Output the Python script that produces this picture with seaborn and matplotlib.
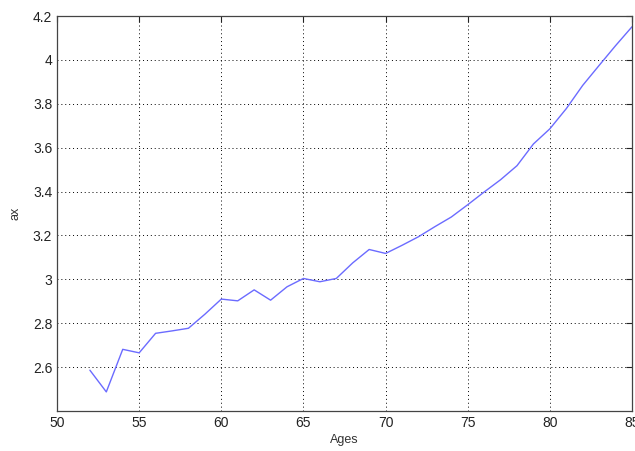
import pandas as pd
import matplotlib
matplotlib.use('Agg')
import matplotlib.pyplot as plt
import seaborn as sns

ages = list(range(52, 86))
ax_values = [2.586, 2.487, 2.681, 2.665, 2.754, 2.765, 2.777, 2.841, 2.910, 2.902,
             2.952, 2.905, 2.966, 3.004, 2.989, 3.004, 3.075, 3.136, 3.118, 3.155,
             3.194, 3.240, 3.284, 3.340, 3.398, 3.454, 3.518, 3.617, 3.686, 3.778,
             3.884, 3.975, 4.065, 4.151]

x_ticks = [50, 55, 60, 65, 70, 75, 80, 85]
y_ticks = [2.6, 2.8, 3.0, 3.2, 3.4, 3.6, 3.8, 4.0, 4.2]
y_labels = ["2.6", "2.8", "3", "3.2", "3.4", "3.6", "3.8", "4", "4.2"]

df = pd.DataFrame({"Ages": ages, "ax": ax_values})

sns.set_style("white")
plt.rcParams['font.family'] = ['Liberation Sans', 'DejaVu Sans']

fig = plt.figure(figsize=(6.35, 4.51), dpi=100)
ax = fig.add_axes([0.0898, 0.0887, 0.9055, 0.8758])

sns.lineplot(data=df, x="Ages", y="ax", color="#6b6bff", linewidth=1.0, ax=ax)

ax.set_xlim(50, 85)
ax.set_ylim(2.4, 4.2)
ax.set_xticks(x_ticks)
ax.set_yticks(y_ticks)
ax.set_yticklabels(y_labels)

ax.grid(True, color="black", linestyle=(0, (1, 3)), linewidth=0.7)
ax.tick_params(direction="in", length=4, width=0.8, top=True, right=True,
               labelsize=10, colors="#222222", labelcolor="#222222")
for s in ax.spines.values():
    s.set_color("#444444")
    s.set_linewidth(0.9)

ax.set_xlabel("Ages", fontsize=9, color="#333333", labelpad=3)
ax.set_ylabel("ax", fontsize=9, color="#333333", labelpad=8)

fig.savefig("out.png", dpi=100)
